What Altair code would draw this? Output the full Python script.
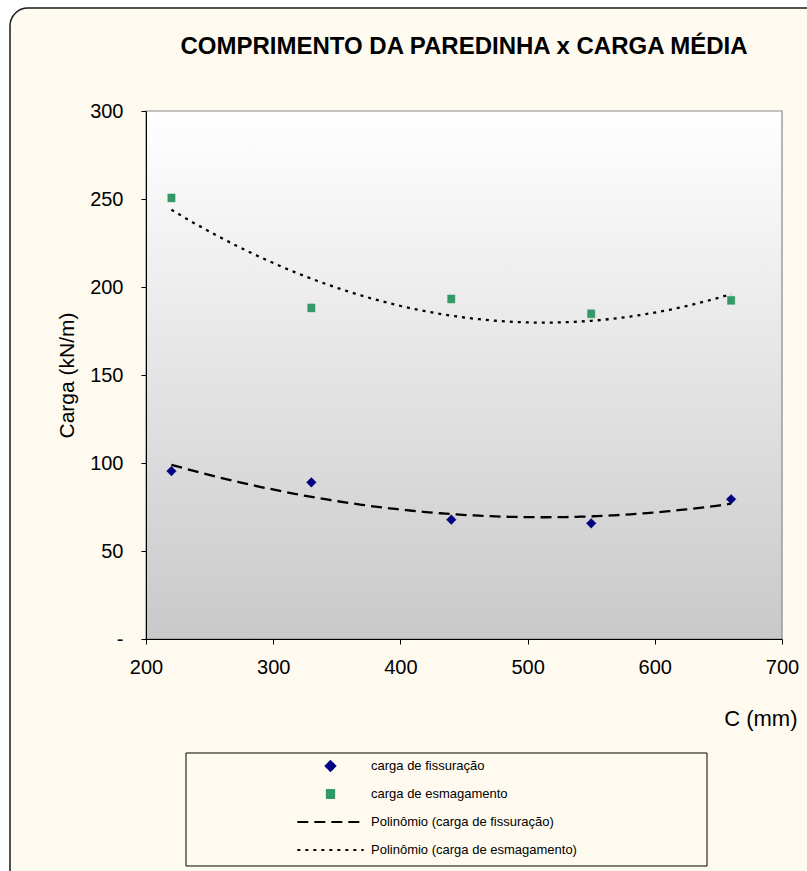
import altair as alt
import pandas as pd

# Wall length (mm) and mean loads (kN/m)
C_MM = [220, 330, 440, 550, 660]
CARGA_FISSURACAO = [95.4, 89.0, 67.8, 65.7, 79.4]
CARGA_ESMAGAMENTO = [250.6, 188.1, 193.2, 184.8, 192.4]

SERIES = ["carga de fissuração", "carga de esmagamento"]
TREND = ["Polinômio (carga de fissuração)", "Polinômio (carga de esmagamento)"]
LEGEND_ORDER = SERIES + TREND

COLORS = ["#000080", "#339966", "#000000", "#000000"]
# symbol paths in the normalised [-1, 1] box; drawn at a large symbol size so
# the two trend entries of the legend get long line samples
SHAPES = [
    "M0,-0.145L0.145,0L0,0.145L-0.145,0Z",
    "M-0.11,-0.12H0.11V0.12H-0.11Z",
    "M-1,0H1",
    "M-1,0H1",
]
DASHES = [[1, 0], [1, 0], [11, 6], [3, 5]]
SYMBOL_SIZE = 4400

Y_TICKS = [0, 50, 100, 150, 200, 250, 300]
X_TICKS = [200, 300, 400, 500, 600, 700]

W, H = 636, 528
FONT = "Liberation Sans"
CREAM = "#FFFAEF"

rows = []
for serie, values in zip(SERIES, [CARGA_FISSURACAO, CARGA_ESMAGAMENTO]):
    for c, v in zip(C_MM, values):
        rows.append({"C": c, "carga": v, "serie": serie})
df = pd.DataFrame(rows)

legend = alt.Legend(
    title=None, orient="none", legendX=150, legendY=647,
    labelFont=FONT, labelFontSize=13, labelColor="black", labelLimit=400,
    labelOffset=6, rowPadding=12, symbolStrokeWidth=2, clipHeight=16,
    symbolSize=SYMBOL_SIZE,
)

def sc(rng):
    return alt.Scale(domain=LEGEND_ORDER, range=rng)

x_enc = alt.X("C:Q", scale=alt.Scale(domain=[200, 700], nice=False),
              axis=alt.Axis(values=X_TICKS, title="C (mm)", format="d",
                            titleX=W + 15, titleY=79, titleAlign="right",
                            titleBaseline="middle", titleFontSize=22,
                            titleFontWeight="normal", labelPadding=13,
                            labelFlush=False, zindex=2))
y_enc = alt.Y("carga:Q", scale=alt.Scale(domain=[0, 300], nice=False),
              axis=alt.Axis(values=Y_TICKS, title="Carga (kN/m)",
                            labelExpr="datum.value == 0 ? '-\u2003\u2009' : datum.label",
                            titleFontSize=21, titleFontWeight="normal",
                            titlePadding=12, labelPadding=18,
                            labelFlush=False, zindex=2))

color = alt.Color("serie:N", scale=sc(COLORS), legend=legend)
stroke = alt.Stroke("serie:N", scale=sc(COLORS), legend=legend)
shape = alt.Shape("serie:N", scale=sc(SHAPES), legend=legend)
dash = alt.StrokeDash("serie:N", scale=sc(DASHES), legend=legend)

one = alt.Data(values=[{}])

# outer rounded frame of the chart
frame = alt.Chart(one).mark_rect(
    fill=CREAM, stroke="#1a1a1a", strokeWidth=1.5, cornerRadius=18
).encode(x=alt.value(10 - 146), x2=alt.value(W + 60),
         y=alt.value(8 - 111), y2=alt.value(H + 280))

# plot area with vertical gradient and grey border
plot_bg = alt.Chart(one).mark_rect(
    fill={"gradient": "linear", "x1": 0, "y1": 0, "x2": 0, "y2": 1,
          "stops": [{"offset": 0, "color": "#FFFFFF"},
                    {"offset": 1, "color": "#C9C9C9"}]},
    stroke="#888888", strokeWidth=1.2,
).encode(x=alt.value(0), x2=alt.value(W), y=alt.value(0), y2=alt.value(H))

# legend box
legend_box = alt.Chart(one).mark_rect(
    fill=CREAM, stroke="#000000", strokeWidth=1
).encode(x=alt.value(40), x2=alt.value(561), y=alt.value(642), y2=alt.value(755))

trend = alt.Chart(df).transform_regression(
    "C", "carga", method="poly", order=2, groupby=["serie"]
).transform_calculate(
    serie="'Polinômio (' + datum.serie + ')'"
).mark_line(strokeWidth=2.3).encode(x=x_enc, y=y_enc, color=color, strokeDash=dash)

points = alt.Chart(df).mark_point(
    filled=True, opacity=1, strokeWidth=0.5, size=SYMBOL_SIZE
).encode(x=x_enc, y=y_enc, color=color, stroke=stroke, shape=shape, strokeDash=dash)

chart = alt.layer(frame, plot_bg, legend_box, trend, points).properties(
    width=W, height=H,
    autosize=alt.AutoSizeParams(type="none"),
    padding={"left": 146, "top": 111, "right": 25, "bottom": 232},
    title=alt.TitleParams(
        "COMPRIMENTO DA PAREDINHA x CARGA MÉDIA", font=FONT, fontSize=24,
        fontWeight="bold", anchor="middle", frame="group", baseline="alphabetic",
        offset=-71, color="black",
    ),
).configure(background="white").configure_view(
    stroke=None
).configure_axis(
    labelFont=FONT, titleFont=FONT, labelFontSize=20, labelColor="black",
    titleColor="black", domainColor="black", tickColor="black", tickSize=5,
    grid=False, domainWidth=1,
)

chart.save("out.html", embed_options={"renderer": "svg", "actions": False})
